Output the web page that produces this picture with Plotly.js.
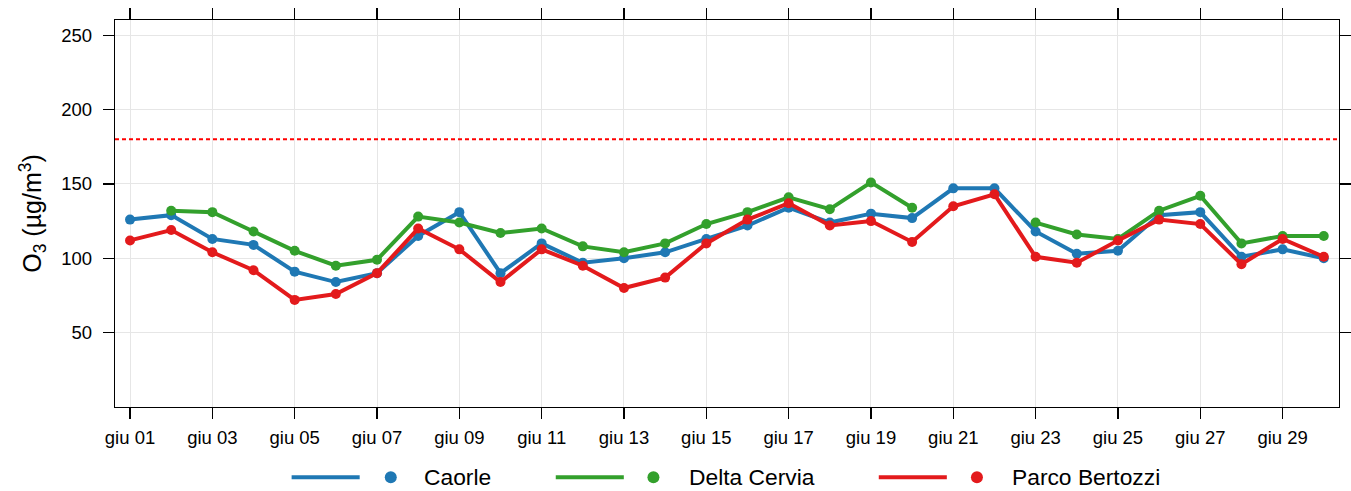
<!DOCTYPE html>
<html>
<head>
<meta charset="utf-8">
<script src="https://cdn.plot.ly/plotly-3.0.1.min.js"></script>
<style>html,body{margin:0;padding:0;background:#fff;}#chart{width:1351px;height:491px;}</style>
</head>
<body>
<div id="chart"></div>
<script>
const days = [1,2,3,4,5,6,7,8,9,10,11,12,13,14,15,16,17,18,19,20,21,22,23,24,25,26,27,28,29,30];
const caorle = [126,129,113,109,91,84,90,115,131,90,110,97,100,104,113,122,134,124,130,127,147,147,118,103,105,129,131,101,106,100];
const deltaCervia = [null,132,131,118,105,95,99,128,124,117,120,108,104,110,123,131,141,133,151,134,null,null,124,116,113,132,142,110,115,115];
const parcoBertozzi = [112,119,104,92,72,76,90,120,106,84,106,95,80,87,110,126,137,122,125,111,135,143,101,97,112,126,123,96,113,101];
const seriesNames = ['Caorle','Delta Cervia','Parco Bertozzi'];
const tickVals = [1,3,5,7,9,11,13,15,17,19,21,23,25,27,29];
const tickText = ['giu 01','giu 03','giu 05','giu 07','giu 09','giu 11','giu 13','giu 15','giu 17','giu 19','giu 21','giu 23','giu 25','giu 27','giu 29'];
const yTicks = [50,100,150,200,250];
const threshold = 180;

const colors = ['#1f78b4','#33a02c','#e31a1c'];
const series = [caorle, deltaCervia, parcoBertozzi];
const FONT = 'Liberation Sans, Arial, sans-serif';

const traces = series.map((s,i)=>({
  x: days, y: s, type:'scatter', mode:'lines+markers', name: seriesNames[i],
  line:{color:colors[i], width:4}, marker:{color:colors[i], size:10},
  connectgaps:false, showlegend:false, hoverinfo:'x+y'
}));

// custom legend (line segment + dot + label)
const legY = -0.1813;
const legPos = [
  {l0:0.1443,l1:0.1999,dot:0.2253,txt:0.2505},
  {l0:0.3601,l1:0.4157,dot:0.4399,txt:0.4670},
  {l0:0.6240,l1:0.6796,dot:0.7042,txt:0.7309}
];
const shapes = [{
  type:'line', xref:'paper', x0:0, x1:1, yref:'y', y0:threshold, y1:threshold,
  line:{color:'#ff0000', width:2, dash:'4px,3px'}, layer:'above'
}];
const annotations = [];
legPos.forEach((p,i)=>{
  shapes.push({type:'line', xref:'paper', yref:'paper', x0:p.l0, x1:p.l1, y0:legY, y1:legY,
    line:{color:colors[i], width:4}});
  shapes.push({type:'circle', xref:'paper', yref:'paper', xsizemode:'pixel', ysizemode:'pixel',
    xanchor:p.dot, yanchor:legY, x0:-6, x1:6, y0:-6, y1:6,
    fillcolor:colors[i], line:{width:0}});
  annotations.push({xref:'paper', yref:'paper', x:p.txt, y:legY, xanchor:'left', yanchor:'middle',
    text:seriesNames[i], showarrow:false, font:{family:FONT, size:22.8, color:'#000'}});
});

const layout = {
  width:1351, height:491,
  margin:{l:115, r:12, t:20, b:84},
  paper_bgcolor:'#fff', plot_bgcolor:'#fff',
  font:{family:FONT, color:'#000'},
  showlegend:false,
  xaxis:{
    range:[0.635, 30.37], tickvals:tickVals, ticktext:tickText,
    showgrid:true, gridcolor:'#e6e6e6', gridwidth:1,
    showline:true, linecolor:'#000', linewidth:1.3, mirror:'ticks',
    ticks:'outside', ticklen:11, tickwidth:1.3, tickcolor:'#000', ticklabelstandoff:2,
    tickfont:{family:FONT, size:18.5, color:'#000'}, zeroline:false
  },
  yaxis:{
    range:[0, 260.2], tickvals:yTicks,
    showgrid:true, gridcolor:'#e6e6e6', gridwidth:1,
    showline:true, linecolor:'#000', linewidth:1.3, mirror:'ticks',
    ticks:'outside', ticklen:11, tickwidth:1.3, tickcolor:'#000', ticklabelstandoff:7,
    tickfont:{family:FONT, size:18.5, color:'#000'}, zeroline:false,
    title:{text:'O<sub>3</sub> (µg/m<sup>3</sup>)', font:{family:FONT, size:25, color:'#000'}, standoff:12}
  },
  shapes:shapes, annotations:annotations
};
Plotly.newPlot('chart', traces, layout, {displayModeBar:false, staticPlot:true});
</script>
</body>
</html>
